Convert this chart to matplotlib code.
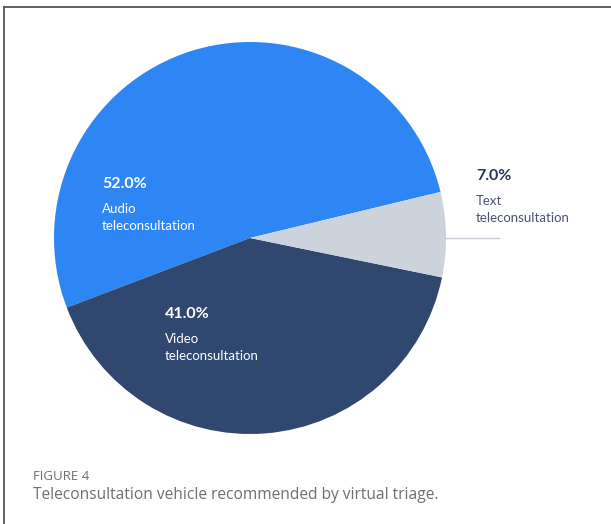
import matplotlib.pyplot as plt
from matplotlib.lines import Line2D

# Share of teleconsultation types recommended by virtual triage
categories = ["Audio\nteleconsultation", "Video\nteleconsultation", "Text\nteleconsultation"]
shares = [52.0, 41.0, 7.0]
colors = ["#2E86F4", "#30476F", "#CDD3DD"]

W, H = 611, 524
fig = plt.figure(figsize=(W / 100, H / 100), dpi=100)
fig.patch.set_facecolor("white")

# pie: centre (250, 238) px, radius 196 px
cx, cy, r = 250, 238, 196
ax = fig.add_axes([(cx - r) / W, (H - cy - r) / H, 2 * r / W, 2 * r / H])
ax.pie(shares, colors=colors, startangle=13.6, counterclock=True, radius=1,
       wedgeprops=dict(linewidth=0))
ax.set_xlim(-1, 1)
ax.set_ylim(-1, 1)
ax.set_aspect("equal")
ax.axis("off")


def px(x, y):
    return x / W, 1 - y / H


font = "Lato"
# in-slice labels (white) and the outside label for the small slice
label_pos = [(102, 184), (165, 314), (476, 176)]
pct_colors = ["white", "white", "#2B3557"]
name_colors = ["white", "white", "#4A5372"]
for cat, val, (lx, ly), pc, nc in zip(categories, shares, label_pos, pct_colors, name_colors):
    fig.text(*px(lx, ly), f"{val:.1f}%", color=pc, fontsize=11.5, fontweight="bold",
             family=font, ha="left", va="center")
    fig.text(*px(lx, ly + 19), cat, color=nc, fontsize=9.5, family=font,
             ha="left", va="top", linespacing=1.55)

# leader line for the text slice
fig.add_artist(Line2D([445 / W, 499 / W], [1 - 238 / H, 1 - 238 / H],
                      color="#C9CED9", linewidth=1))

# frame lines at the top and left
fig.add_artist(Line2D([4 / W, 1], [1 - 7 / H, 1 - 7 / H], color="#555555", linewidth=1.3))
fig.add_artist(Line2D([4 / W, 4 / W], [0, 1 - 7 / H], color="#555555", linewidth=1.3))

# caption
fig.text(*px(33, 477), "FIGURE 4", color="#6E6E6E", fontsize=9.5, family="Open Sans",
         ha="left", va="center")
fig.text(*px(33, 495), "Teleconsultation vehicle recommended by virtual triage.",
         color="#6E6E6E", fontsize=11.2, family="Open Sans", ha="left", va="center")

fig.savefig("out.png", dpi=100)
